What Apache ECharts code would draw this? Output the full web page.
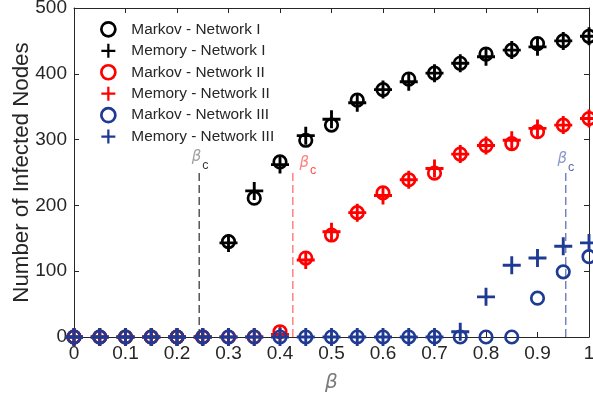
<!DOCTYPE html>
<html>
<head>
<meta charset="utf-8">
<script src="https://cdn.jsdelivr.net/npm/echarts@6/dist/echarts.min.js"></script>
<style>html,body{margin:0;padding:0;background:#fff}#c{width:593px;height:407px}</style>
</head>
<body>
<div id="c"></div>
<script>
const beta = [0,0.05,0.1,0.15,0.2,0.25,0.3,0.35,0.4,0.45,0.5,0.55,0.6,0.65,0.7,0.75,0.8,0.85,0.9,0.95,1];
const markovI  = [0,0,0,0,0,0,145,211,266,299,322,360,376,392,401,416,430,436,446,450,457];
const memoryI  = [0,0,0,0,0,0,143,222,262,306,331,356,376,388,401,416,426,436,441,450,457];
const markovII = [0,0,0,0,0,0,0,0,8,120,155,189,219,239,249,278,291,294,312,322,332];
const memoryII = [0,0,0,0,0,0,0,0,4,117,160,189,215,239,256,278,291,299,317,322,332];
const markovIII= [0,0,0,0,0,0,0,0,0,0,0,0,0,0,0,0,0,0,59,99,122];
const memoryIII= [0,0,0,0,0,0,0,0,0,0,0,0,0,0,0,8,61,109,120,138,143];
const betaC    = [0.243, 0.425, 0.955];
const betaCTop = [250, 250, 250];
const xTickLabels = ['0','0.1','0.2','0.3','0.4','0.5','0.6','0.7','0.8','0.9','1'];
const yTickLabels = ['0','100','200','300','400','500'];
const seriesNames = ['Markov - Network I','Memory - Network I','Markov - Network II','Memory - Network II','Markov - Network III','Memory - Network III'];

const BLACK = '#000000', RED = '#ff0000', BLUE = '#1f3a93';
const PLUS = 'path://M0.42,0 H0.58 V0.42 H1 V0.58 H0.58 V1 H0.42 V0.58 H0 V0.42 H0.42 Z';
const FONT = 'Liberation Sans, Arial, Helvetica, sans-serif';
const AX = '#262626';

function pts(vals){ return beta.map((b,i)=>[b, vals[i]]); }
function circleSeries(name, vals, color){
  return {name, type:'scatter', data: pts(vals), symbol:'circle', symbolSize:12.5, clip:false,
    itemStyle:{color:'rgba(0,0,0,0)', borderColor:color, borderWidth:2.7, opacity:1}, z:3};
}
function plusSeries(name, vals, color){
  return {name, type:'scatter', data: pts(vals), symbol:PLUS, symbolSize:18, clip:false,
    itemStyle:{color:color, opacity:1}, z:3};
}
function dashSeries(i, color){
  return {type:'line', data:[[betaC[i],0],[betaC[i],betaCTop[i]]], symbol:'none', silent:true,
    lineStyle:{color:color, width:1, type:[8,4]}, z:2};
}
function labelSeries(i, pos, offset, betaColor, cColor){
  return {type:'scatter', silent:true, z:4, clip:false, symbol:'circle', symbolSize:1,
    itemStyle:{color:'rgba(0,0,0,0)'},
    data:[[betaC[i], betaCTop[i]]],
    label:{show:true, position:pos, distance:2, offset:offset,
      formatter:'{b|β}{s|c}',
      rich:{
        b:{fontFamily:'DejaVu Sans', fontStyle:'italic', fontSize:15, color:betaColor, verticalAlign:'top', lineHeight:22},
        s:{fontFamily:FONT, fontSize:12.5, color:cColor, verticalAlign:'bottom', lineHeight:22, padding:[8,0,0,1]}
      }}};
}

const series = [
  circleSeries(seriesNames[0], markovI, BLACK),
  plusSeries(seriesNames[1], memoryI, BLACK),
  circleSeries(seriesNames[2], markovII, RED),
  plusSeries(seriesNames[3], memoryII, RED),
  circleSeries(seriesNames[4], markovIII, BLUE),
  plusSeries(seriesNames[5], memoryIII, BLUE),
  dashSeries(0, '#000000'),
  dashSeries(1, '#ff4040'),
  dashSeries(2, '#33489e'),
  labelSeries(0, 'top', [1,2], '#8a8a8a', '#000'),
  labelSeries(1, 'right', [4,-6], '#ff6060', '#ff2020'),
  labelSeries(2, 'top', [0,4], '#6f80c0', '#2c3f96')
];

const legendData = seriesNames.map((n,i)=>{
  const color = [BLACK,BLACK,RED,RED,BLUE,BLUE][i];
  if (i%2===0) return {name:n, icon:'circle', itemStyle:{color:'rgba(0,0,0,0)', borderColor:color, borderWidth:2.7}};
  return {name:n, icon:PLUS, itemStyle:{color:color, borderWidth:0}};
});

const chart = echarts.init(document.getElementById('c'), null, {renderer:'canvas'});
chart.setOption({
  animation:false,
  backgroundColor:'#fff',
  grid:{left:74, right:4, top:8, bottom:70, containLabel:false, outerBoundsMode:'none'},
  legend:{orient:'vertical', left:95, top:16, itemWidth:16, itemHeight:14, itemGap:5.6,
    data:legendData, selectedMode:false,
    textStyle:{fontFamily:FONT, fontSize:15.4, color:AX, padding:[0,0,0,10]}},
  xAxis:[{type:'value', min:0, max:1, interval:0.1, position:'bottom',
      name:'β', nameLocation:'middle', nameGap:36, nameMoveOverlap:false,
      nameTextStyle:{fontFamily:'DejaVu Sans', fontStyle:'italic', fontSize:20, color:'#7a7a7a'},
      axisLine:{show:true, lineStyle:{color:AX, width:1}},
      axisTick:{show:true, inside:true, length:5, lineStyle:{color:AX}},
      axisLabel:{fontFamily:FONT, fontSize:19, color:AX, margin:7,
        formatter:(v)=>xTickLabels[Math.round(v*10)]},
      splitLine:{show:false}},
    {type:'value', min:0, max:1, interval:0.1, position:'top',
      axisLine:{show:true, onZero:false, lineStyle:{color:AX, width:1}},
      axisTick:{show:true, inside:true, length:5, lineStyle:{color:AX}},
      axisLabel:{show:false}, splitLine:{show:false}}],
  yAxis:[{type:'value', min:0, max:500, interval:100, position:'left',
      name:'Number of Infected Nodes', nameLocation:'middle', nameGap:41, nameRotate:90, nameMoveOverlap:false,
      nameTextStyle:{fontFamily:FONT, fontSize:22.3, color:AX},
      axisLine:{show:true, lineStyle:{color:AX, width:1}},
      axisTick:{show:true, inside:true, length:5, lineStyle:{color:AX}},
      axisLabel:{fontFamily:FONT, fontSize:19, color:AX, margin:7,
        formatter:(v)=>yTickLabels[Math.round(v/100)]},
      splitLine:{show:false}},
    {type:'value', min:0, max:500, interval:100, position:'right',
      axisLine:{show:true, onZero:false, lineStyle:{color:AX, width:1}},
      axisTick:{show:true, inside:true, length:5, lineStyle:{color:AX}},
      axisLabel:{show:false}, splitLine:{show:false}}],
  series: series
});
</script>
</body>
</html>
